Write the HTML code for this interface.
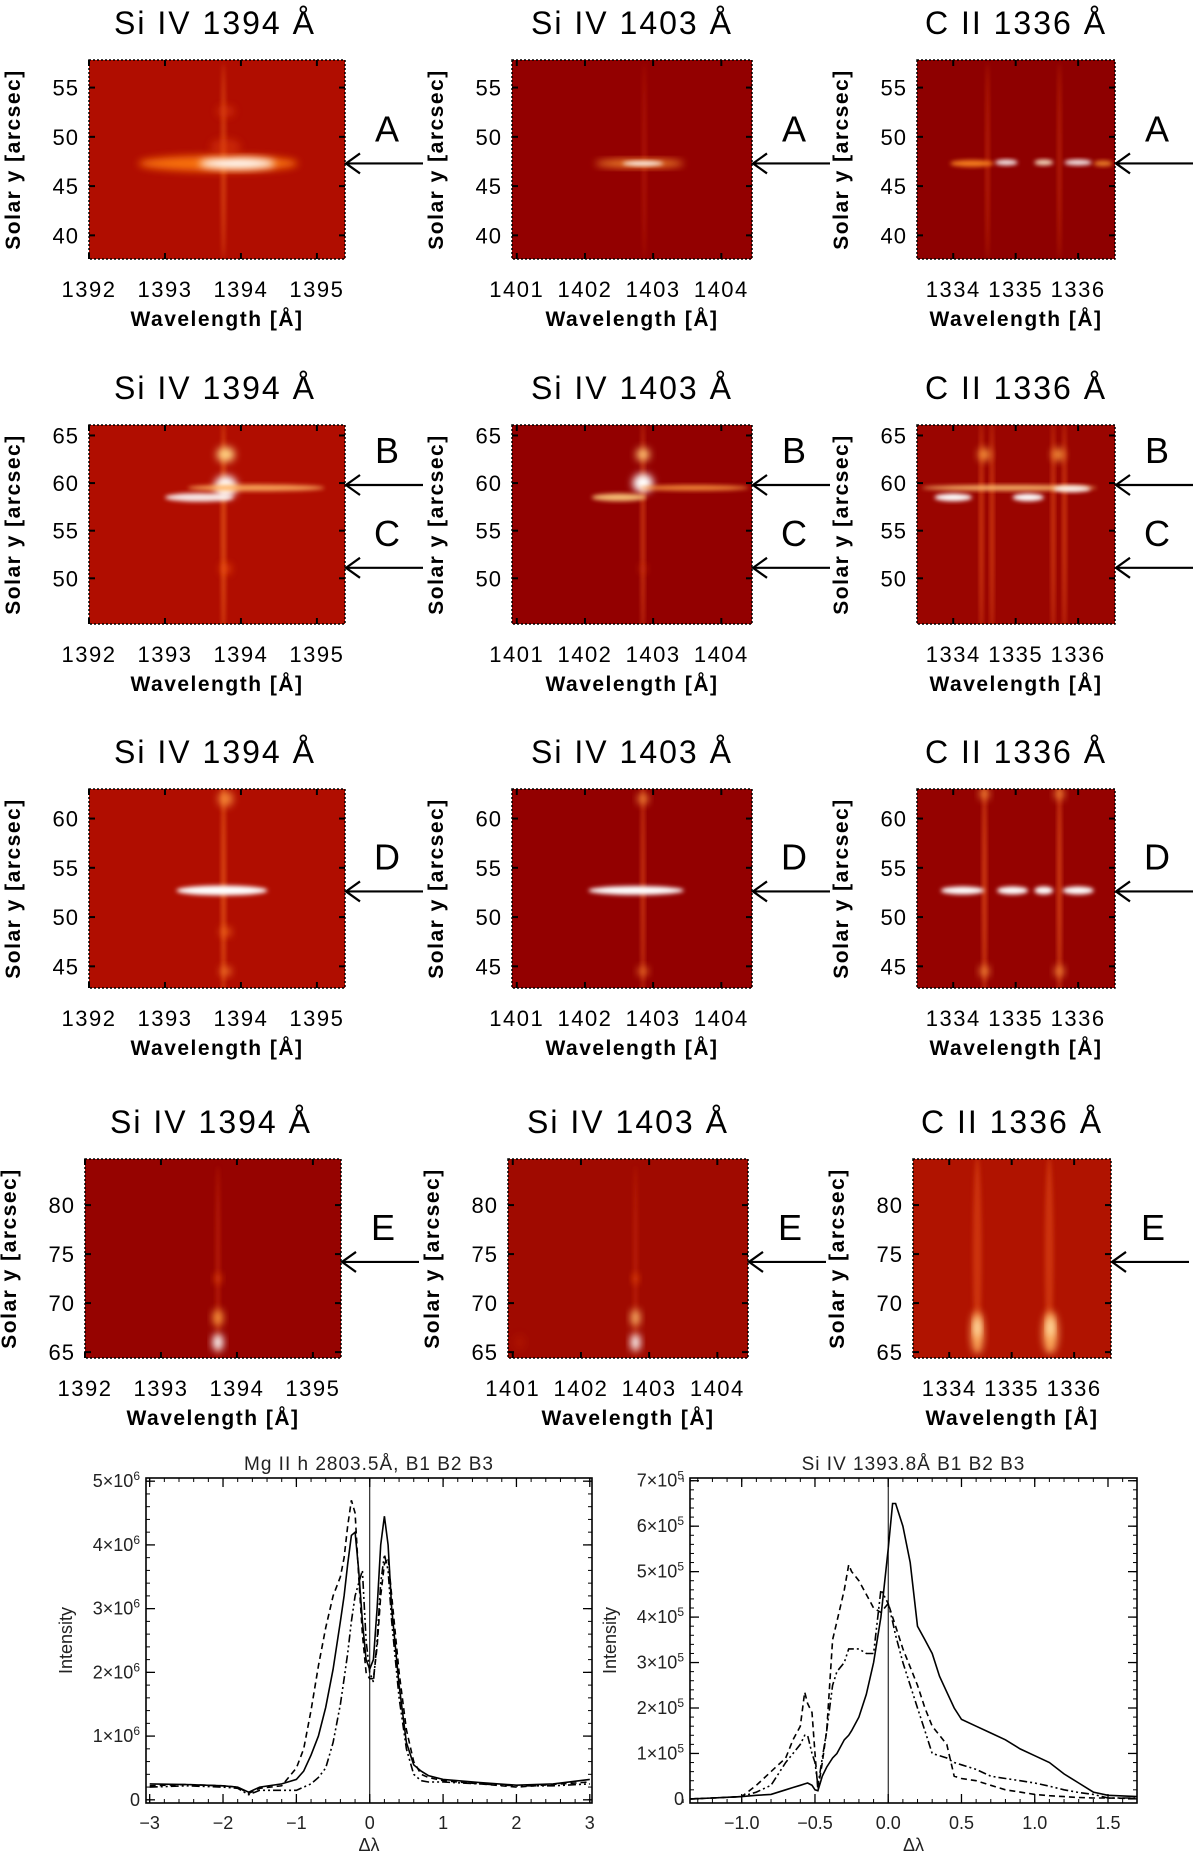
<!DOCTYPE html>
<html><head><meta charset="utf-8">
<style>
html,body{margin:0;padding:0;background:#fff;}
svg{display:block;font-family:"Liberation Sans",sans-serif;}
</style></head>
<body>
<svg id="fig" width="1200" height="1860" viewBox="0 0 1200 1860" xmlns="http://www.w3.org/2000/svg">
<defs>
<filter id="b2" x="-50%" y="-50%" width="200%" height="200%"><feGaussianBlur stdDeviation="2"/></filter>
<filter id="b4" x="-50%" y="-50%" width="200%" height="200%"><feGaussianBlur stdDeviation="4"/></filter>
<filter id="b7" x="-50%" y="-50%" width="200%" height="200%"><feGaussianBlur stdDeviation="7"/></filter>
</defs>
</svg>
<script>
// ---------- spectral image panels ----------
const rowTops=[60,425,789,1159];
const rowYMin=[37.6,45.2,42.8,64.4];
const rowYMax=[57.8,66.1,63.0,84.7];
const rowYTicks=[[40,45,50,55],[50,55,60,65],[45,50,55,60],[65,70,75,80]];
const colLeft=[89,512,917];
const colRight=[345,752,1115];
const colXMin=[1392.0,1400.93,1333.42];
const colXMax=[1395.37,1404.45,1336.59];
const colXTicks=[[1392,1393,1394,1395],[1401,1402,1403,1404],[1334,1335,1336]];
const colTitles=["Si  IV  1394  Å","Si  IV  1403  Å","C  II  1336  Å"];
const bgColors=[["#b00d00","#930000","#8e0000"],["#b00d00","#930000","#9a0500"],["#b00d00","#930000","#950200"],["#960300","#a00a00","#b01300"]];
const arrowRows=[[{l:"A",y:47.3}],[{l:"B",y:59.8},{l:"C",y:51.1}],[{l:"D",y:52.6}],[{l:"E",y:74.2}]];
// features: [lambda, y, halfWidthLambda, halfHeightY, color, opacity, blur]
const features=[
 [ // row 1
  [[1393.77,47.5,0.03,10,"#ff7a20",0.45,"b2"],[1393.7,47.3,1.05,0.8,"#ff7a10",0.9,"b4"],[1393.95,47.3,0.5,0.55,"#ffffff",1,"b4"],[1393.8,49,0.2,0.8,"#e04010",0.5,"b4"],[1393.8,52.6,0.12,0.6,"#e04010",0.5,"b4"]],
  [[1402.87,47.5,0.03,10,"#d03010",0.4,"b2"],[1402.8,47.3,0.65,0.4,"#ff9a30",0.9,"b4"],[1402.85,47.3,0.3,0.25,"#ffffff",0.9,"b2"]],
  [[1334.55,47.5,0.03,10,"#e04010",0.5,"b2"],[1335.7,47.5,0.03,10,"#e04010",0.5,"b2"],[1334.3,47.3,0.35,0.35,"#ff8a20",0.9,"b2"],[1334.85,47.4,0.18,0.3,"#ffffff",0.9,"b2"],[1335.45,47.4,0.15,0.3,"#fff0d0",0.9,"b2"],[1336.0,47.4,0.22,0.3,"#ffffff",0.9,"b2"],[1336.4,47.3,0.15,0.3,"#ff9a30",0.8,"b2"]]
 ],
 [ // row 2
  [[1393.77,55,0.03,12,"#ff7a20",0.55,"b2"],[1393.8,63,0.12,0.8,"#ffd080",1,"b4"],[1393.8,59.6,0.15,1.2,"#ffffff",1,"b4"],[1394.2,59.5,0.9,0.35,"#ffb060",0.9,"b2"],[1393.45,58.5,0.45,0.45,"#ffffff",0.9,"b2"],[1393.8,51,0.08,0.6,"#ff6010",0.5,"b4"]],
  [[1402.85,55,0.03,12,"#ff6a20",0.5,"b2"],[1402.85,63,0.1,0.7,"#ffc070",1,"b4"],[1402.85,60,0.15,1.0,"#ffffff",1,"b4"],[1403.6,59.5,0.8,0.3,"#ff9a40",0.85,"b2"],[1402.5,58.5,0.4,0.4,"#ffd080",0.9,"b2"],[1402.85,51,0.06,0.5,"#d03010",0.5,"b4"]],
  [[1334.45,55,0.03,12,"#ff6a20",0.55,"b2"],[1334.62,55,0.03,12,"#ff6a20",0.55,"b2"],[1335.6,55,0.03,12,"#ff6a20",0.55,"b2"],[1335.78,55,0.03,12,"#ff6a20",0.55,"b2"],[1334.5,63,0.1,0.7,"#ffa040",0.9,"b4"],[1335.68,63,0.1,0.7,"#ffa040",0.9,"b4"],[1334.9,59.5,1.4,0.3,"#ffc070",0.9,"b2"],[1334.0,58.5,0.3,0.4,"#ffffff",1,"b2"],[1335.2,58.5,0.25,0.4,"#ffffff",1,"b2"],[1335.9,59.4,0.3,0.35,"#ffffff",0.9,"b2"]]
 ],
 [ // row 3
  [[1393.77,53,0.03,12,"#ff7a20",0.55,"b2"],[1393.8,62,0.1,0.8,"#ff9a40",0.8,"b4"],[1393.8,48.5,0.08,0.5,"#ff7a20",0.6,"b4"],[1393.8,44.5,0.08,0.5,"#ff8a30",0.7,"b4"],[1393.75,52.7,0.6,0.5,"#ffffff",1,"b2"]],
  [[1402.85,53,0.03,12,"#ff6a20",0.5,"b2"],[1402.85,62,0.08,0.6,"#ff9a40",0.8,"b4"],[1402.85,44.5,0.08,0.5,"#ff8a30",0.7,"b4"],[1402.75,52.7,0.7,0.45,"#ffffff",1,"b2"]],
  [[1334.5,53,0.035,12,"#ff6a20",0.6,"b2"],[1335.7,53,0.035,12,"#ff6a20",0.6,"b2"],[1334.5,62.5,0.08,0.6,"#ff9a40",0.8,"b4"],[1335.7,62.5,0.08,0.6,"#ff9a40",0.8,"b4"],[1334.5,44.5,0.08,0.6,"#ff9a40",0.8,"b4"],[1335.7,44.5,0.08,0.6,"#ff9a40",0.8,"b4"],[1334.15,52.7,0.35,0.4,"#ffffff",1,"b2"],[1334.95,52.7,0.25,0.4,"#ffffff",1,"b2"],[1335.45,52.7,0.15,0.4,"#ffffff",1,"b2"],[1336.0,52.7,0.25,0.4,"#ffffff",1,"b2"]]
 ],
 [ // row 4
  [[1393.75,74,0.03,10,"#d03010",0.5,"b2"],[1393.75,66,0.07,0.9,"#ffffff",1,"b4"],[1393.75,68.5,0.07,0.9,"#ffa040",0.9,"b4"],[1393.75,72.5,0.05,0.5,"#ff6010",0.6,"b4"]],
  [[1402.8,74,0.03,10,"#d03010",0.5,"b2"],[1402.8,66,0.07,0.9,"#ffffff",1,"b4"],[1402.8,68.5,0.07,0.9,"#ffc070",0.9,"b4"],[1402.8,72.5,0.05,0.5,"#ff6010",0.6,"b4"],[1401.1,66,0.08,0.8,"#c02000",0.4,"b4"]],
  [[1334.45,75,0.07,10,"#e04818",0.6,"b2"],[1335.6,75,0.07,10,"#e04818",0.6,"b2"],[1334.45,67,0.1,2.2,"#ffb060",0.95,"b4"],[1335.62,67,0.12,2.2,"#ffb060",0.95,"b4"],[1334.45,67.5,0.05,1,"#fff0c0",0.9,"b4"],[1335.62,67.5,0.05,1,"#fff0c0",0.9,"b4"]]
 ]
];
const NS="http://www.w3.org/2000/svg";
const fig=document.getElementById('fig');
function mk(tag,attrs,parent){const e=document.createElementNS(NS,tag);for(const k in attrs)e.setAttribute(k,attrs[k]);(parent||fig).appendChild(e);return e;}
function txt(s,attrs,parent){const e=mk('text',attrs,parent);e.textContent=s;return e;}

for(let r=0;r<4;r++){
 for(let c=0;c<3;c++){
  const L=colLeft[c]+(r===3?-4:0),R=colRight[c]+(r===3?-4:0),T=rowTops[r],B=T+199;
  const sx=v=>L+(v-colXMin[c])/(colXMax[c]-colXMin[c])*(R-L);
  const sy=v=>B-(v-rowYMin[r])/(rowYMax[r]-rowYMin[r])*(B-T);
  const g=mk('g',{});
  
  
  const cid='clip'+r+c;
  const cp=mk('clipPath',{id:cid},g);mk('rect',{x:L,y:T,width:R-L,height:B-T},cp);
  const title=txt(colTitles[c],{x:(L+R)/2+(c===0?-2:0),y:T-26,'text-anchor':'middle','font-size':32,'letter-spacing':2,fill:'#000','xml:space':'preserve'},g);
  
  
  const img=mk('g',{'clip-path':'url(#'+cid+')'},g);
  
  
  mk('rect',{x:L,y:T,width:R-L,height:B-T,fill:bgColors[r][c]},img);
  for(const f of features[r][c]){
   const el=mk('ellipse',{cx:sx(f[0]),cy:sy(f[1]),rx:Math.abs(sx(f[0]+f[2])-sx(f[0])),ry:Math.abs(sy(f[1]+f[3])-sy(f[1])),fill:f[4],opacity:f[5],filter:'url(#'+f[6]+')'},img);
   
   
  }
  mk('rect',{x:L,y:T,width:R-L,height:B-T,fill:'none',stroke:'#000','stroke-width':1.5,'stroke-dasharray':'2,2'},g);
  for(const t of colXTicks[c]){
   const x=sx(t);
   mk('line',{x1:x,y1:B,x2:x,y2:B-6,stroke:'#000','stroke-width':2},g);
   mk('line',{x1:x,y1:T,x2:x,y2:T+6,stroke:'#000','stroke-width':2},g);
   const tl=txt(String(t),{x:x,y:B+38,'text-anchor':'middle','font-size':22,'letter-spacing':1.5,fill:'#000'},g);
   
   
  }
  for(const t of rowYTicks[r]){
   const y=sy(t);
   mk('line',{x1:L,y1:y,x2:L+6,y2:y,stroke:'#000','stroke-width':2},g);
   mk('line',{x1:R,y1:y,x2:R-6,y2:y,stroke:'#000','stroke-width':2},g);
   const tl=txt(String(t),{x:L-10,y:y+8,'text-anchor':'end','font-size':22,'letter-spacing':1,fill:'#000'},g);
   
   
  }
  const xt=txt('Wavelength [Å]',{x:(L+R)/2,y:B+67,'text-anchor':'middle','font-size':21,'letter-spacing':1.5,fill:'#000','font-weight':'bold'},g);
  
  
  const yx=L-69;
  const yt=txt('Solar  y  [arcsec]',{x:yx,y:(T+B)/2,'text-anchor':'middle','font-size':21,'letter-spacing':1.5,fill:'#000','font-weight':'bold','xml:space':'preserve',transform:'rotate(-90 '+yx+' '+((T+B)/2)+')'},g);
  
  
  for(const a of arrowRows[r]){
   const y=sy(a.y);
   const ag=mk('g',{},g);
   
   
   mk('line',{x1:R+1,y1:y,x2:R+78,y2:y,stroke:'#000','stroke-width':2.2},ag);
   mk('polyline',{points:(R+15)+','+(y-10)+' '+(R+1)+','+y+' '+(R+15)+','+(y+10),fill:'none',stroke:'#000','stroke-width':2.2},ag);
   txt(a.l,{x:R+42,y:y-22,'text-anchor':'middle','font-size':36,fill:'#000'},ag);
  }
 }
}

// ---------- line profile plots ----------
const mgX=[-3,-2.5,-2,-1.8,-1.65,-1.5,-1.2,-1.0,-0.9,-0.8,-0.7,-0.6,-0.5,-0.4,-0.35,-0.3,-0.25,-0.2,-0.15,-0.1,-0.05,0,0.05,0.1,0.15,0.2,0.25,0.3,0.4,0.5,0.6,0.7,0.8,1.0,1.5,2.0,2.5,3.0];
const mgB1=[0.25,0.24,0.22,0.2,0.12,0.2,0.25,0.32,0.45,0.7,1.0,1.45,2.05,2.8,3.2,3.7,4.15,4.2,3.6,2.8,2.2,2.05,2.2,3.0,4.0,4.45,4.0,3.0,1.8,0.9,0.55,0.45,0.38,0.32,0.27,0.23,0.25,0.32];
const mgB2=[0.22,0.24,0.22,0.2,0.1,0.18,0.22,0.5,0.8,1.4,2.1,2.7,3.2,3.5,3.8,4.3,4.7,4.5,3.5,2.6,2.0,1.9,1.9,2.4,3.2,3.7,3.8,3.2,2.0,1.1,0.6,0.4,0.35,0.3,0.25,0.2,0.24,0.28];
const mgB3=[0.2,0.22,0.2,0.18,0.08,0.15,0.15,0.15,0.2,0.25,0.35,0.5,0.9,1.5,1.9,2.3,2.8,3.2,3.4,3.6,2.5,2.0,1.85,2.5,3.4,3.85,3.6,2.8,1.6,0.8,0.4,0.3,0.28,0.28,0.25,0.22,0.22,0.25];
const mgYTicks=[0,1,2,3,4,5];
const mgXTicks=[-3,-2,-1,0,1,2,3];
const siX=[-1.35,-1.2,-1.0,-0.9,-0.8,-0.7,-0.65,-0.6,-0.57,-0.55,-0.52,-0.5,-0.48,-0.45,-0.42,-0.38,-0.35,-0.3,-0.27,-0.25,-0.2,-0.15,-0.1,-0.05,0,0.03,0.05,0.1,0.15,0.2,0.25,0.3,0.35,0.4,0.45,0.5,0.6,0.7,0.8,0.9,1.0,1.1,1.2,1.3,1.4,1.5,1.7];
const siB1=[0,0.02,0.05,0.08,0.1,0.2,0.25,0.3,0.33,0.35,0.3,0.2,0.18,0.5,0.7,0.9,1.0,1.3,1.4,1.5,1.8,2.3,3.0,4.0,5.5,6.5,6.5,6.0,5.2,3.8,3.5,3.2,2.7,2.35,2.0,1.75,1.6,1.45,1.3,1.1,0.95,0.8,0.55,0.35,0.15,0.08,0.05];
const siB2=[0,0.02,0.05,0.3,0.6,0.9,1.3,1.6,2.35,2.1,1.9,1.0,0.2,0.8,1.5,3.5,3.9,4.6,5.15,5.0,4.8,4.5,4.2,4.1,4.3,4.0,3.8,3.3,2.9,2.5,2.0,1.6,1.4,1.2,0.5,0.45,0.4,0.3,0.2,0.15,0.1,0.07,0.05,0.03,0.02,0.02,0.01];
const siB3=[0,0.02,0.05,0.15,0.3,0.8,1.0,1.2,1.4,1.4,1.0,0.8,0.3,0.9,1.5,2.5,2.8,3.0,3.3,3.3,3.3,3.2,3.2,4.6,4.3,3.9,3.6,3.0,2.5,2.0,1.5,1.0,0.95,0.9,0.8,0.75,0.65,0.5,0.45,0.4,0.35,0.28,0.2,0.14,0.1,0.02,0.02];
const siYTicks=[0,1,2,3,4,5,6,7];
const siXTicks=[-1.0,-0.5,0.0,0.5,1.0,1.5];

function profilePlot(o){
 const g=mk('g',{});
 
 
 const {L,R,T,B}=o;
 const sx=v=>L+(v-o.xmin)/(o.xmax-o.xmin)*(R-L);
 const sy=v=>B-(v-o.ymin)/(o.ymax-o.ymin)*(B-T);
 const t=txt(o.title,{x:(L+R)/2,y:T-8,'text-anchor':'middle','font-size':19,'letter-spacing':1,fill:'#222','xml:space':'preserve'},g);
 
 
 mk('rect',{x:L,y:T,width:R-L,height:B-T,fill:'none',stroke:'#000','stroke-width':1.6},g);
 for(let v=o.xmin;v<=o.xmax;v+=o.xminor){const x=sx(Math.round(v/o.xminor)*o.xminor);mk('line',{x1:x,y1:B,x2:x,y2:B-4,stroke:'#000','stroke-width':1},g);mk('line',{x1:x,y1:T,x2:x,y2:T+4,stroke:'#000','stroke-width':1},g);}
 for(let v=0;v<=o.ymax;v+=o.yminor){const y=sy(v);mk('line',{x1:L,y1:y,x2:L+4,y2:y,stroke:'#000','stroke-width':1},g);mk('line',{x1:R,y1:y,x2:R-4,y2:y,stroke:'#000','stroke-width':1},g);}
 for(const v of o.xticks){const x=sx(v);mk('line',{x1:x,y1:B,x2:x,y2:B-9,stroke:'#000','stroke-width':1.3},g);mk('line',{x1:x,y1:T,x2:x,y2:T+9,stroke:'#000','stroke-width':1.3},g);
  const l=txt((v<0?'−':'')+Math.abs(v).toFixed(o.xdec),{x:x,y:B+26,'text-anchor':'middle','font-size':18,fill:'#222'},g);
  
  }
 for(const v of o.yticks){const y=sy(v);mk('line',{x1:L,y1:y,x2:L+9,y2:y,stroke:'#000','stroke-width':1.3},g);mk('line',{x1:R,y1:y,x2:R-9,y2:y,stroke:'#000','stroke-width':1.3},g);
  const l=txt('',{x:L-6,y:y+6,'text-anchor':'end','font-size':18,fill:'#222'},g);
  
  
  if(v===0){l.textContent='0';}else{l.textContent=v+'×10';const s=mk('tspan',{dy:-7,'font-size':12},l);s.textContent=o.exp;}}
 const yl=txt('Intensity',{x:L-74,y:(T+B)/2,'text-anchor':'middle','font-size':18,fill:'#222',transform:'rotate(-90 '+(L-74)+' '+((T+B)/2)+')'},g);
 
 
 const xl=txt('Δλ',{x:(L+R)/2,y:B+48,'text-anchor':'middle','font-size':18,fill:'#222'},g);
 
 
 const zl=mk('line',{x1:sx(0),y1:T,x2:sx(0),y2:B,stroke:'#000','stroke-width':1},g);
 
 
 const dashes=['none','6,4','8,3,2,3,2,3'];
 o.series.forEach((ys,i)=>{
  const pts=o.x.map((xv,j)=>sx(xv).toFixed(1)+','+sy(ys[j]).toFixed(1)).join(' ');
  const p=mk('polyline',{points:pts,fill:'none',stroke:'#000','stroke-width':1.6,'stroke-dasharray':dashes[i]},g);
  
  
 });
}
profilePlot({name:'mg-ii-profile-plot',L:146,R:592,T:1478,B:1803,xmin:-3.05,xmax:3.03,ymin:-0.05,ymax:5.05,xminor:0.2,yminor:0.2,xticks:mgXTicks,yticks:mgYTicks,xdec:0,exp:'6',title:'Mg II h  2803.5Å,  B1  B2  B3',x:mgX,series:[mgB1,mgB2,mgB3]});
profilePlot({name:'si-iv-profile-plot',L:690,R:1137,T:1478,B:1803,xmin:-1.353,xmax:1.698,ymin:-0.09,ymax:7.06,xminor:0.1,yminor:0.2,xticks:siXTicks,yticks:siYTicks,xdec:1,exp:'5',title:'Si IV  1393.8Å  B1  B2  B3',x:siX,series:[siB1,siB2,siB3]});
</script>
</body></html>
